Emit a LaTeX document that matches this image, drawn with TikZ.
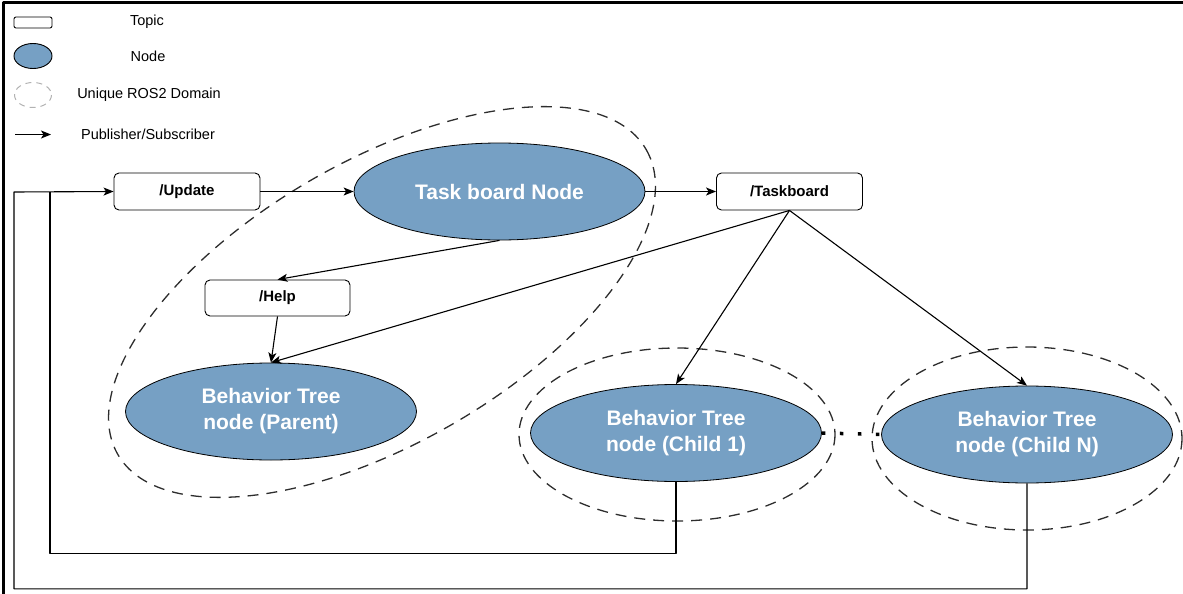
\documentclass[tikz,border=0pt]{standalone}
\usepackage{fontspec}
\setmainfont{Liberation Sans}
\usetikzlibrary{shapes.geometric,arrows.meta}
\definecolor{nodeblue}{RGB}{118,160,196}
\definecolor{domaingray}{RGB}{45,45,45}
\begin{document}
\begin{tikzpicture}[x=1pt, y=-1pt, line join=round, >={Stealth[length=10pt, width=8pt, inset=2.5pt]},
	topic/.style={draw, line width=.9pt, rounded corners=5pt, fill=white, minimum width=146pt, minimum height=37pt, inner sep=0pt, font=\fontsize{15}{18}\selectfont\bfseries},
	rosnode/.style={ellipse, draw, line width=.8pt, fill=nodeblue, text=white, inner sep=0pt, minimum width=291pt, minimum height=97pt, align=center, font=\fontsize{21}{26}\selectfont\bfseries},
	rosdomain/.style={draw=domaingray, line width=1.3pt, dash pattern=on 11pt off 8pt},
	legendtext/.style={font=\fontsize{14.5}{17}\selectfont},
	conn/.style={->, line width=1.1pt}]
	\useasboundingbox (0,0) rectangle (1183,594);
	\draw[line width=2.5pt] (3.5,594) -- (3.5,2.5) -- (1183,2.5);
	% legend
	\draw[line width=.9pt, rounded corners=2pt] (14,17) rectangle (52,28);
	\node[legendtext] (ltopic) at (147,22) {Topic};
	\draw[line width=.9pt, fill=nodeblue] (33,56) ellipse[x radius=19, y radius=12.5];
	\node[legendtext] (lnode) at (148,56) {Node};
	\draw[draw=gray!60, line width=1pt, dash pattern=on 6pt off 5pt] (33,95) ellipse[x radius=18.5, y radius=12.5];
	\node[legendtext] (ldomain) at (149,95) {Unique ROS2 Domain};
	\draw[conn] (15,134.5) -- (51,134.5);
	\node[legendtext] (lpubsub) at (148,134) {Publisher/Subscriber};
	% topics and nodes
	\node[topic] (update) at (187,191.5) {/Update};
	\node[rosnode] (board) at (499.5,191.5) {Task board Node};
	\node[topic] (taskboard) at (789.5,191.5) {/Taskboard};
	\node[topic, minimum width=145pt, minimum height=36pt] (help) at (277.5,298) {/Help};
	\node[rosnode] (parent) at (271,411.5) {Behavior Tree\\node (Parent)};
	\node[rosnode] (child1) at (676,433) {Behavior Tree\\node (Child 1)};
	\node[rosnode] (childn) at (1027,434.5) {Behavior Tree\\node (Child N)};
	\coordinate (inner) at (50,192);
	\coordinate (outer) at (14,192);
	% ROS2 domains
	\draw[rosdomain] (382,302) ellipse[x radius=305, y radius=141, rotate=30];
	\draw[rosdomain] (child1.center) ++(1,1.5) ellipse[x radius=158, y radius=86.5];
	\draw[rosdomain] (childn.center) ++(0,4) ellipse[x radius=155, y radius=91.5];
	% publisher/subscriber
	\draw[conn] (update) -- (board);
	\draw[conn] (board) -- (taskboard);
	\draw[conn] (board.south) -- (help.north);
	\draw[conn] (help.south) -- (parent.north);
	\draw[conn] (taskboard.south) -- (parent.north);
	\draw[conn] (taskboard.south) -- (child1.north);
	\draw[conn] (taskboard.south) -- (childn.north);
	\draw[conn] (childn.south) -- ++(0,105.5) -| (outer) -- (update.west);
	\draw[line width=1.1pt] (child1.south) -- ++(0,71.5) -| (inner);
	\draw[line width=3.5pt, dash pattern=on 3.5pt off 14.5pt] (child1.east) -- (childn.west);
\end{tikzpicture}
\end{document}
